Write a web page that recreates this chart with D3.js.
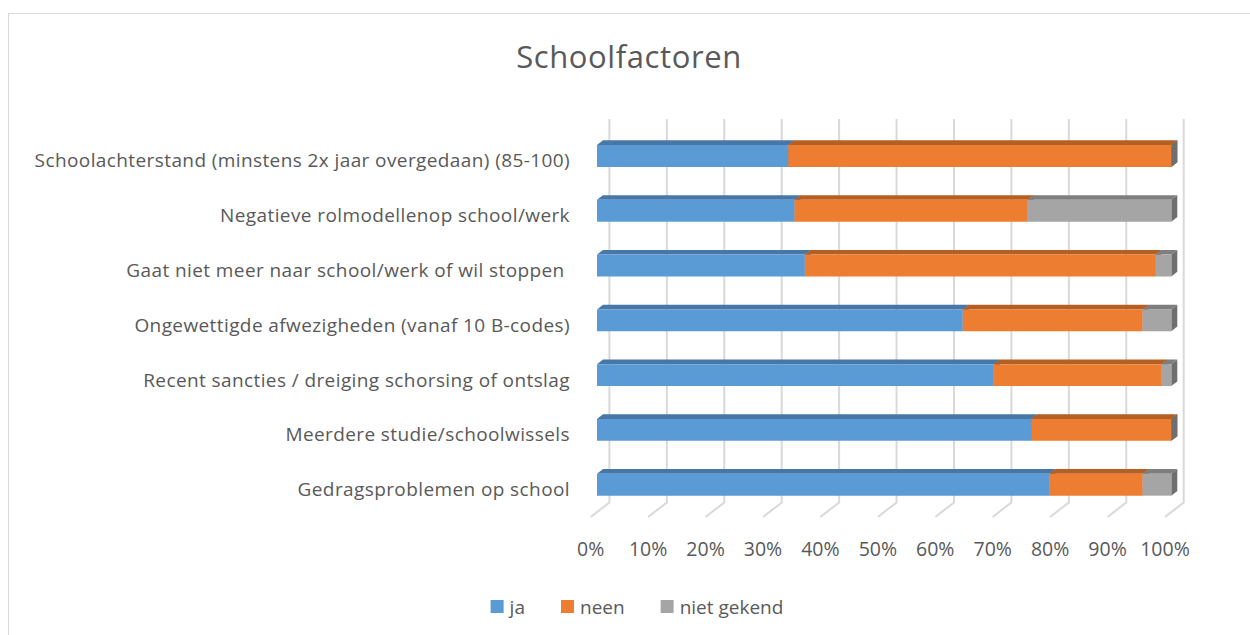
<!DOCTYPE html>
<html>
<head>
<meta charset="utf-8">
<script src="https://cdn.jsdelivr.net/npm/d3@7"></script>
<style>
  body { margin: 0; background: #fff; }
  text { font-family: "Open Sans", Lato, sans-serif; fill: #595959; }
</style>
</head>
<body>
<svg id="chart" width="1250" height="635"></svg>
<script>
// Categories (top to bottom) and the share of each answer, in percent
const categories = [
  "Schoolachterstand (minstens 2x jaar overgedaan) (85-100)",
  "Negatieve rolmodellenop school/werk",
  "Gaat niet meer naar school/werk of wil stoppen ",
  "Ongewettigde afwezigheden (vanaf 10 B-codes)",
  "Recent sancties / dreiging schorsing of ontslag",
  "Meerdere studie/schoolwissels",
  "Gedragsproblemen op school"
];
const seriesNames = ["ja", "neen", "niet gekend"];
const ja         = [33.3, 34.4, 36.2, 63.7, 69.1, 75.6, 78.8];
const neen       = [66.7, 40.6, 61.0, 31.3, 29.2, 24.4, 16.2];
const nietGekend = [0.0, 25.0, 2.8, 5.0, 1.7, 0.0, 5.0];
const tickValues = [0, 10, 20, 30, 40, 50, 60, 70, 80, 90, 100];
const tickLabels = tickValues.map(v => v + "%");

const faceColors = ["#5B9BD5", "#ED7D31", "#A5A5A5"];
const topColors  = ["#4677A6", "#B55F24", "#7E7E7E"];
const sideColors = ["#3F6C97", "#A35520", "#6F6F6F"];

const svg = d3.select("#chart");

// chart area border
svg.append("rect")
  .attr("x", 8.5).attr("y", 13.5)
  .attr("width", 1300).attr("height", 700)
  .attr("fill", "#fff").attr("stroke", "#d9d9d9").attr("stroke-width", 1);

// title
svg.append("text")
  .attr("x", 629).attr("y", 68)
  .attr("text-anchor", "middle")
  .style("font-size", "31px")
  .style("letter-spacing", "0.6px")
  .text("Schoolfactoren");

// 3D oblique projection: depth z shifts a point right and up
const kx = 1.0, ky = 0.78;
const project = (x, y, z) => [x + z * kx, y - z * ky];

const zBarFront = 6.3, zBarBack = 12.3, zWall = 18.7;

const x = d3.scaleLinear().domain([0, 100]).range([590.7, 1165]);
const y = d3.scaleBand().domain(categories).range([133.5, 517])
  .paddingInner(0.6).paddingOuter(0.3);

// back wall gridlines and their floor diagonals
const grid = svg.append("g");
tickValues.forEach(v => {
  const top = project(x(v), y.range()[0], zWall);
  const wallBottom = project(x(v), y.range()[1], zWall);
  const floorFront = project(x(v), y.range()[1], 0);
  grid.append("path")
    .attr("d", d3.line()([top, wallBottom, floorFront]))
    .attr("fill", "none")
    .attr("stroke", "#d9d9d9")
    .attr("stroke-width", 2);
});

// value axis labels along the front edge of the floor
svg.append("g").selectAll("text")
  .data(tickValues)
  .join("text")
  .attr("x", d => x(d))
  .attr("y", 556)
  .attr("text-anchor", "middle")
  .style("font-size", "19.5px")
  .text((d, i) => tickLabels[i]);

// category labels (keep trailing spaces)
svg.append("g").selectAll("text")
  .data(categories)
  .join("text")
  .attr("x", 570)
  .attr("y", d => y(d) + y.bandwidth() / 2 + 6.5)
  .attr("text-anchor", "end")
  .style("font-size", "19px")
  .style("letter-spacing", "0.4px")
  .style("white-space", "pre")
  .text(d => d);

// stacked 3D bars
const rows = categories.map((c, i) => ({ category: c, ja: ja[i], neen: neen[i], "niet gekend": nietGekend[i] }));
const stacked = d3.stack().keys(seriesNames)(rows);

const poly = pts => "M" + pts.map(p => p.join(",")).join("L") + "Z";
const bars = svg.append("g");
categories.forEach((c, ci) => {
  const yTop = y(c), yBot = y(c) + y.bandwidth();
  stacked.forEach((layer, si) => {
    const [v0, v1] = layer[ci];
    const x0 = x(v0) , x1 = x(v1);
    const g = bars.append("g");
    // top face
    g.append("path").attr("d", poly([
      project(x0, yTop, zBarFront), project(x1, yTop, zBarFront),
      project(x1, yTop, zBarBack), project(x0, yTop, zBarBack)
    ])).attr("fill", topColors[si]);
    // right side face
    g.append("path").attr("d", poly([
      project(x1, yTop, zBarFront), project(x1, yTop, zBarBack),
      project(x1, yBot, zBarBack), project(x1, yBot, zBarFront)
    ])).attr("fill", sideColors[si]);
    // front face
    g.append("path").attr("d", poly([
      project(x0, yTop, zBarFront), project(x1, yTop, zBarFront),
      project(x1, yBot, zBarFront), project(x0, yBot, zBarFront)
    ])).attr("fill", faceColors[si]);
  });
});

// legend, centred below the plot
const legend = svg.append("g");
const items = seriesNames.map((name, i) => {
  const g = legend.append("g");
  g.append("rect").attr("width", 13).attr("height", 13).attr("y", 600).attr("fill", faceColors[i]);
  const t = g.append("text").attr("x", 19).attr("y", 613.5).style("font-size", "19px").text(name);
  return { g, w: 19 + t.node().getComputedTextLength() };
});
const gap = 36;
const total = d3.sum(items, d => d.w) + gap * (items.length - 1);
let cx = 637 - total / 2;
items.forEach(it => { it.g.attr("transform", `translate(${cx},0)`); cx += it.w + gap; });
</script>
</body>
</html>
